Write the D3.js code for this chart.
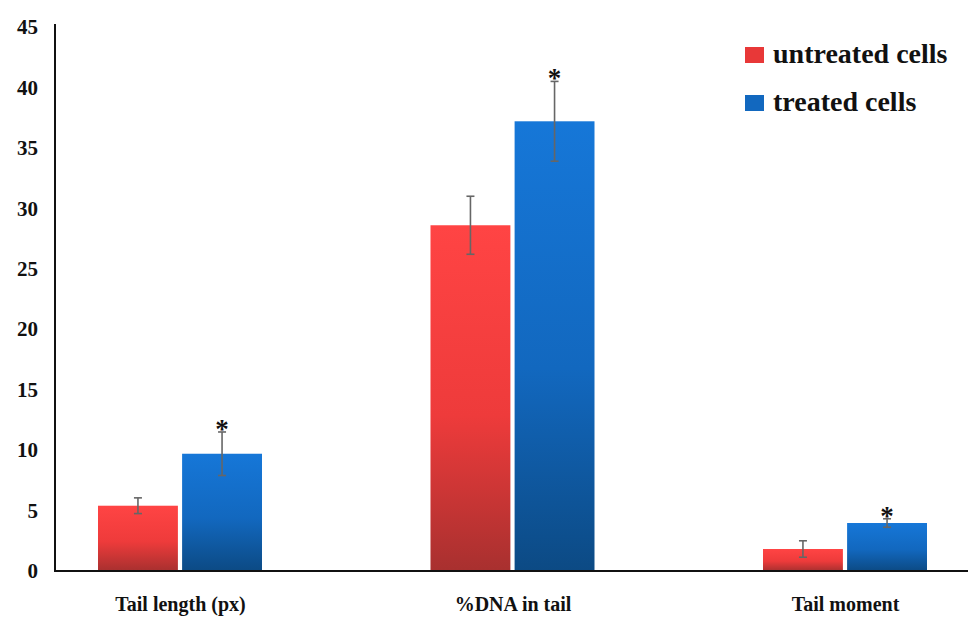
<!DOCTYPE html>
<html><head><meta charset="utf-8">
<script src="https://cdn.jsdelivr.net/npm/d3@7"></script>
<style>body{margin:0;background:#fff}svg{display:block}</style>
</head><body>
<svg id="c" width="968" height="617"></svg>
<script>
const categories = ["Tail length (px)", "%DNA in tail", "Tail moment"];
const seriesNames = ["untreated cells", "treated cells"];
const untreated = [5.4, 28.6, 1.82];
const treated = [9.7, 37.2, 3.97];
const untreatedErr = [0.65, 2.4, 0.68];
const treatedErr = [1.8, 3.3, 0.35];
const significant = [true, true, true];
const yTicks = [0, 5, 10, 15, 20, 25, 30, 35, 40, 45];

const svg = d3.select("#c");
const font = "'Liberation Serif','Times New Roman',serif";
const y = d3.scaleLinear().domain([0, 45]).range([571, 27]);
const x = d3.scalePoint().domain(categories).range([180, 845]);
const xs = d3.scaleBand().domain(seriesNames).range([-82, 82]).paddingInner(0.05);

const defs = svg.append("defs");
function grad(id, top, mid, bot) {
  const g = defs.append("linearGradient").attr("id", id).attr("x1", 0).attr("x2", 0).attr("y1", 0).attr("y2", 1);
  g.append("stop").attr("offset", "0%").attr("stop-color", top);
  g.append("stop").attr("offset", "55%").attr("stop-color", mid);
  g.append("stop").attr("offset", "100%").attr("stop-color", bot);
}
grad("gr", "#ff4444", "#ee3b3b", "#a8302f");
grad("gb", "#1677d8", "#1268bf", "#0c4a84");
const fills = ["url(#gr)", "url(#gb)"];
const legendFills = ["#e83838", "#1268bf"];

const data = [];
categories.forEach((c, i) => {
  data.push({cat: c, s: seriesNames[0], si: 0, v: untreated[i], e: untreatedErr[i], sig: false});
  data.push({cat: c, s: seriesNames[1], si: 1, v: treated[i], e: treatedErr[i], sig: significant[i]});
});

// y axis
const yAxis = d3.axisLeft(y).tickValues(yTicks).tickSize(0).tickPadding(17);
const ya = svg.append("g").attr("transform", "translate(55,0)").call(yAxis);
ya.select(".domain").remove();
ya.selectAll("text").attr("font-family", font).attr("font-weight", "bold").attr("font-size", 21).attr("fill", "#111");

// bars
const bars = svg.append("g");
bars.selectAll("rect").data(data).join("rect")
  .attr("x", d => x(d.cat) + xs(d.s))
  .attr("width", xs.bandwidth())
  .attr("y", d => y(d.v))
  .attr("height", d => y(0) - y(d.v))
  .attr("fill", d => fills[d.si]);

// error bars
const eb = svg.append("g").attr("stroke", "#666").attr("stroke-width", 1.6);
data.forEach(d => {
  const cx = x(d.cat) + xs(d.s) + xs.bandwidth() / 2;
  eb.append("line").attr("x1", cx).attr("x2", cx).attr("y1", y(d.v + d.e)).attr("y2", y(d.v - d.e));
  eb.append("line").attr("x1", cx - 4).attr("x2", cx + 4).attr("y1", y(d.v + d.e)).attr("y2", y(d.v + d.e));
  eb.append("line").attr("x1", cx - 4).attr("x2", cx + 4).attr("y1", y(d.v - d.e)).attr("y2", y(d.v - d.e));
});

// asterisks
svg.append("g").selectAll("text").data(data.filter(d => d.sig)).join("text")
  .attr("x", d => x(d.cat) + xs(d.s) + xs.bandwidth() / 2)
  .attr("y", d => y(d.v + d.e) + 6)
  .attr("text-anchor", "middle")
  .attr("font-family", font).attr("font-weight", "bold").attr("font-size", 27).attr("fill", "#111")
  .text("*");

// axes lines
svg.append("line").attr("x1", 55).attr("x2", 55).attr("y1", 24).attr("y2", y(0)).attr("stroke", "#111").attr("stroke-width", 2);
svg.append("line").attr("x1", 54).attr("x2", 968).attr("y1", y(0)).attr("y2", y(0)).attr("stroke", "#111").attr("stroke-width", 2);

// x labels
const xAxis = d3.axisBottom(x).tickSize(0).tickPadding(0);
const xa = svg.append("g").attr("transform", "translate(0,611)").call(xAxis);
xa.select(".domain").remove();
xa.selectAll("text").attr("font-family", font).attr("font-weight", "bold").attr("font-size", 20).attr("fill", "#111")
  .attr("dy", 0).attr("y", 0);

// legend
const lg = svg.append("g");
seriesNames.forEach((s, i) => {
  const ly = 47 + i * 48;
  lg.append("rect").attr("x", 745).attr("y", ly).attr("width", 19).attr("height", 16).attr("fill", legendFills[i]);
  lg.append("text").attr("x", 773).attr("y", ly + 16).attr("font-family", font).attr("font-weight", "bold")
    .attr("font-size", 28).attr("fill", "#111").text(s);
});
</script>
</body></html>
